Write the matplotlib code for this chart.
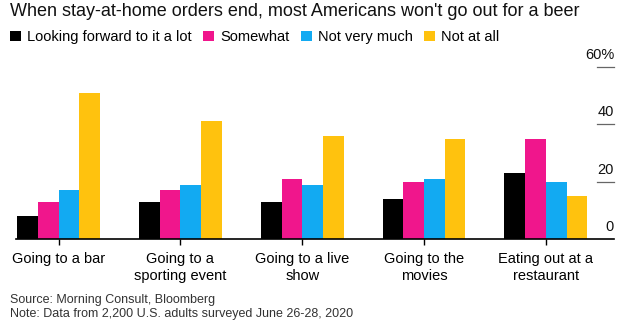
import numpy as np
import matplotlib.pyplot as plt

categories = ['Going to a bar', 'Going to a\nsporting event', 'Going to a live\nshow',
              'Going to the\nmovies', 'Eating out at a\nrestaurant']
series_names = ['Looking forward to it a lot', 'Somewhat', 'Not very much', 'Not at all']
lot = [8, 13, 13, 14, 23]
somewhat = [13, 17, 21, 20, 35]
not_much = [17, 19, 19, 21, 20]
not_at_all = [51, 41, 36, 35, 15]
yticks = [0, 20, 40, 60]
ytick_labels = ['0', '20', '40', '60%']

colors = ['#000000', '#F0168C', '#12AAF2', '#FFC20E']
plt.rcParams['font.family'] = ['Liberation Sans', 'DejaVu Sans']

fig = plt.figure(figsize=(6.34, 3.26), dpi=100)
ax = fig.add_axes([16 / 634, 0.266, 598 / 634, 0.529])

x = np.arange(len(categories))
w = 0.17
series = [lot, somewhat, not_much, not_at_all]
handles = []
for i, vals in enumerate(series):
    b = ax.bar(x + (i - 1.5) * w, vals, width=w, color=colors[i], label=series_names[i])
    handles.append(b)

ax.set_xlim(-0.35, 4.56)
ax.set_ylim(0, 60)
for s in ['top', 'right', 'left']:
    ax.spines[s].set_visible(False)
ax.spines['bottom'].set_linewidth(1.2)
ax.set_yticks([])
ax.set_xticks(x)
ax.set_xticklabels(categories, fontsize=10.5, linespacing=1.3)
ax.tick_params(axis='x', length=4, width=1, pad=5, color='black')

for v, lab in zip(yticks, ytick_labels):
    if v > 0:
        ax.axhline(v, xmin=0.972, xmax=1.0, color='#666666', lw=0.9, clip_on=False)
    ax.text(1.0, v + 1.8, lab, transform=ax.get_yaxis_transform(), ha='right',
            va='bottom', fontsize=10.5, color='#111111', clip_on=False)

fig.text(10 / 634, 1 - 12 / 326, "When stay-at-home orders end, most Americans won't go out for a beer",
         fontsize=13, va='center', ha='left', color='#111111')
fig.legend(handles=handles, loc='center left', bbox_to_anchor=(4 / 634, 1 - 37 / 326), ncol=4,
           frameon=False, fontsize=10.5, handlelength=0.75, handleheight=0.75,
           handletextpad=0.45, columnspacing=0.75, borderaxespad=0)

fig.text(10 / 634, 1 - 300 / 326, 'Source: Morning Consult, Bloomberg', fontsize=9,
         va='center', color='#333333')
fig.text(10 / 634, 1 - 314 / 326, 'Note: Data from 2,200 U.S. adults surveyed June 26-28, 2020',
         fontsize=9, va='center', color='#333333')

fig.savefig('out.png', dpi=100)
